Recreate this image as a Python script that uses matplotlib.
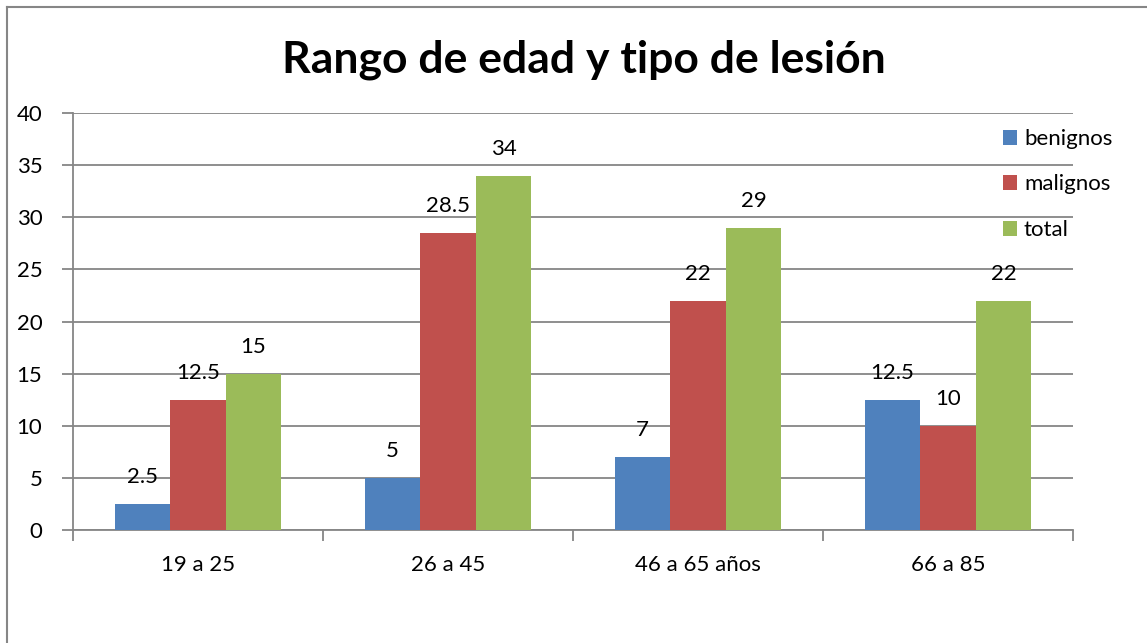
import numpy as np
import matplotlib.pyplot as plt
from matplotlib.lines import Line2D

plt.rcParams['font.family'] = ['Lato', 'DejaVu Sans']

# datos
categorias = ['19 a 25', '26 a 45', '46 a 65 años', '66 a 85']
benignos = [2.5, 5, 7, 12.5]
malignos = [12.5, 28.5, 22, 10]
total = [15, 34, 29, 22]

series = [('benignos', benignos, '#4f81bd'),
          ('malignos', malignos, '#c0504d'),
          ('total', total, '#9bbb59')]

fig = plt.figure(figsize=(11.47, 6.43), dpi=100)
ax = fig.add_axes([73 / 1147, 1 - 530 / 643, 1000 / 1147, 417 / 643])

x = np.arange(len(categorias))
ancho = 0.222
for i, (nombre, vals, color) in enumerate(series):
    pos = x + (i - 1) * ancho
    ax.bar(pos, vals, ancho, color=color, label=nombre, zorder=3)
    for xx, v in zip(pos, vals):
        ax.text(xx, v + 1.6, f'{v:g}', ha='center', va='bottom', fontsize=16)

gris = '#868686'
ax.set_xlim(-0.5, 3.5)
ax.set_ylim(0, 40)
ax.set_yticks(range(0, 41, 5))
ax.yaxis.grid(True, color=gris, linewidth=1.3, zorder=0)
ax.set_xticks(x)
ax.set_xticklabels(categorias, fontsize=16)
ax.set_xticks(np.arange(-0.5, 4, 1), minor=True)
ax.tick_params(axis='x', which='major', length=0, pad=18)
ax.tick_params(axis='x', which='minor', length=8, width=1.3, color=gris)
ax.tick_params(axis='y', length=8, width=1.3, color=gris, labelsize=16, pad=14)
for s in ['top', 'right']:
    ax.spines[s].set_visible(False)
for s in ['left', 'bottom']:
    ax.spines[s].set_color(gris)
    ax.spines[s].set_linewidth(1.3)

fig.text(584 / 1147, 1 - 60 / 643, 'Rango de edad y tipo de lesión',
         ha='center', va='center', fontsize=32, fontweight='bold')

ax.legend(loc='upper left', bbox_to_anchor=(994 / 1147, 1 - 120 / 643),
          bbox_transform=fig.transFigure, frameon=False, fontsize=16,
          handlelength=0.65, handleheight=0.65, handletextpad=0.3,
          labelspacing=1.15, borderaxespad=0)

# borde de la figura (izquierda y arriba)
fig.add_artist(Line2D([7 / 1147, 7 / 1147], [0, 1 - 6.5 / 643],
                      transform=fig.transFigure, color=gris, linewidth=1.5))
fig.add_artist(Line2D([7 / 1147, 1], [1 - 6.5 / 643, 1 - 6.5 / 643],
                      transform=fig.transFigure, color=gris, linewidth=1.5))

fig.savefig('out.png', dpi=100)
